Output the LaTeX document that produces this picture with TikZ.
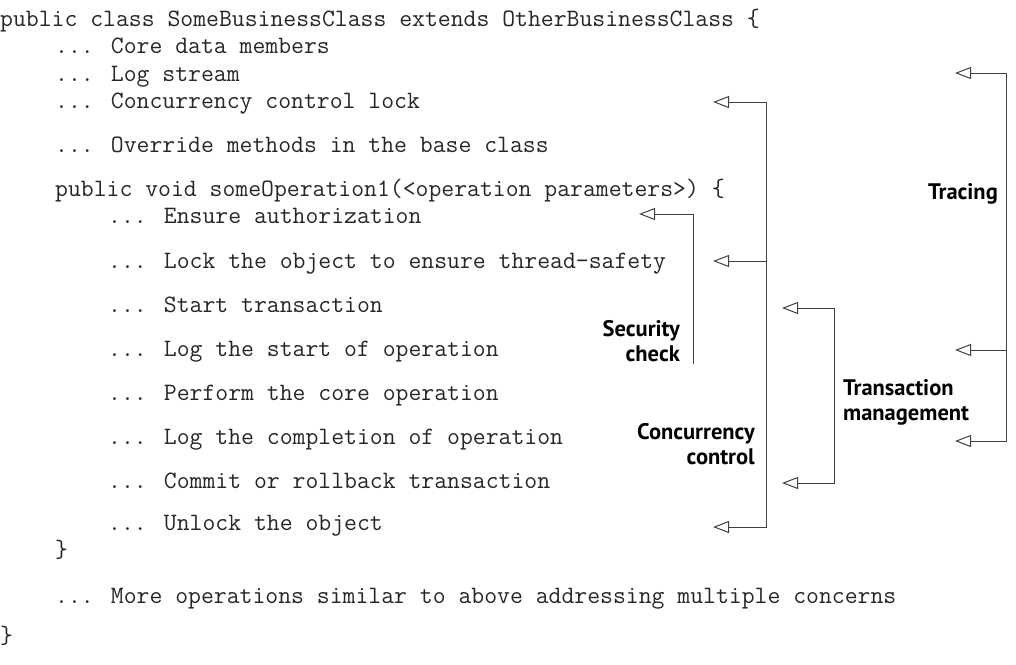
\documentclass[tikz,border=0pt]{standalone}
\usepackage{fontspec}
\newfontfamily\lblfont{PT Sans}
\usetikzlibrary{arrows.meta}

\begin{document}
\begin{tikzpicture}[x=1pt, y=-1pt,
    codeline/.style ={anchor=west, inner sep=0pt, text height=15pt, text depth=5pt,
                      font=\fontsize{25pt}{28pt}\ttfamily, text=black!85},
    concern/.style ={inner sep=0pt, align=right, font=\fontsize{22.5pt}{25pt}\lblfont\bfseries},
    bracket/.style ={draw=black!75, line width=1pt, >={Triangle[open, length=16pt, width=12pt]}}]
   \useasboundingbox (0,0) rectangle (1016,664);

   \node[codeline] (cls)    at (0,21)    {public class SomeBusinessClass extends OtherBusinessClass \{};
   \node[codeline] (core)   at (55,48)   {... Core data members};
   \node[codeline] (logs)   at (55,76)   {... Log stream};
   \node[codeline] (lockm)  at (55,103)  {... Concurrency control lock};
   \node[codeline] (ovr)    at (55,147)  {... Override methods in the base class};
   \node[codeline] (op)     at (55,191)  {public void someOperation1(<operation parameters>) \{};
   \node[codeline] (auth)   at (108,218) {... Ensure authorization};
   \node[codeline] (lock)   at (108,263) {... Lock the object to ensure thread-safety};
   \node[codeline] (txbeg)  at (108,307) {... Start transaction};
   \node[codeline] (logbeg) at (108,351) {... Log the start of operation};
   \node[codeline] (perf)   at (108,395) {... Perform the core operation};
   \node[codeline] (logend) at (108,439) {... Log the completion of operation};
   \node[codeline] (txend)  at (108,483) {... Commit or rollback transaction};
   \node[codeline] (unlock) at (108,525) {... Unlock the object};
   \node[codeline] (opend)  at (55,552)  {\}};
   \node[codeline] (more)   at (55,598)  {... More operations similar to above addressing multiple concerns};
   \node[codeline] (clsend) at (0,638)   {\}};

   \node[concern, anchor=east]  (tracing)  at (998,194) {Tracing};
   \node[concern, anchor=east]  (security) at (680,341) {Security\\check};
   \node[concern, anchor=west, align=left] (transact) at (843,402) {Transaction\\management};
   \node[concern, anchor=east]  (concur)   at (755,444) {Concurrency\\control};

   % tracing
   \coordinate (trA) at (955,73);
   \coordinate (trB) at (955,350);
   \coordinate (trC) at (955,441);
   \draw[bracket, <->] (trA) -- (1006,73) -- (1006,441) -- (trC);
   \draw[bracket, <-] (trB) -- (1006,350);

   % concurrency control
   \coordinate (ccA) at (713,102);
   \coordinate (ccB) at (713,261);
   \coordinate (ccC) at (713,527);
   \draw[bracket, <->] (ccA) -- (766,102) -- (766,527) -- (ccC);
   \draw[bracket, <-] (ccB) -- (766,261);

   % security check
   \coordinate (scA) at (639,214);
   \coordinate (scEnd) at (693,364);
   \draw[bracket, <-] (scA) -- (693,214) -- (scEnd);

   % transaction management
   \coordinate (tmA) at (782,308);
   \coordinate (tmB) at (782,483);
   \draw[bracket, <->] (tmA) -- (834,308) -- (834,483) -- (tmB);
 \end{tikzpicture}
\end{document}
